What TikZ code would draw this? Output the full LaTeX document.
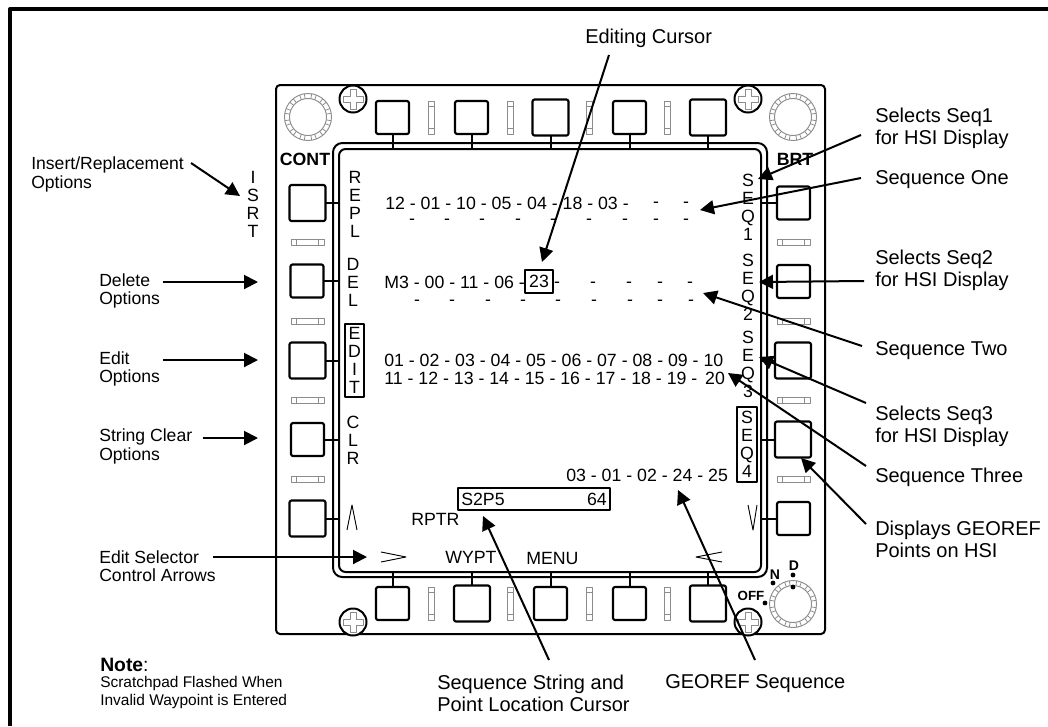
\documentclass[tikz,border=0pt]{standalone}
\usepackage{fontspec}
\setmainfont{Liberation Sans}
\usetikzlibrary{arrows.meta}
\definecolor{slotgray}{HTML}{8C8C8C}
\tikzset{
 knob/.pic={
  \draw[slotgray,line width=0.7pt] (0,0) circle (23.5);
  \draw[slotgray,line width=0.7pt] (0,0) circle (18.5);
  \foreach \a in {15,45,...,345} {
   \draw[slotgray,line width=0.6pt] (\a-6:18.5) -- (\a-6:23.5);
   \draw[slotgray,line width=0.6pt] (\a+6:18.5) -- (\a+6:23.5);
  }
 },
 screw/.pic={
  \draw[line width=1.5pt,fill=white] (0,0) circle (13.5);
  \draw[slotgray,line width=0.6pt] (-3,-10) -- (3,-10) -- (3,-3) -- (10,-3) -- (10,3) -- (3,3) -- (3,10) -- (-3,10) -- (-3,3) -- (-10,3) -- (-10,-3) -- (-3,-3) -- cycle;
 },
 vslot/.pic={
  \draw[slotgray,line width=0.6pt] (-3,-16.5) rectangle (3,16.5) (-3,-11) -- (3,-11) (-3,11) -- (3,11);
 },
 hslot/.pic={
  \draw[slotgray,line width=0.6pt] (-16.5,-3) rectangle (16.5,3) (-11,-3) -- (-11,3) (11,-3) -- (11,3);
 }
}
\begin{document}
\begin{tikzpicture}[x=0.75pt,y=-0.75pt,
 line join=round,
 smallbutton/.style={draw,rounded corners=1.5pt,line width=1.6pt,minimum size=24.75pt,inner sep=0pt,outer sep=0pt},
 bigbutton/.style={smallbutton,minimum size=27pt},
 panelline/.style={draw,inner sep=0pt,outer sep=0pt,line width=1.5pt},
 stub/.style={line width=1.5pt},
 pointer/.style={line width=1.5pt,-{Triangle[length=10.5pt,width=10.5pt]}},
 glyph/.style={line width=0.7pt},
 callout/.style={anchor=west,align=left,inner sep=0pt,font=\fontsize{15}{16.5}\selectfont},
 sidenote/.style={anchor=west,align=left,inner sep=0pt,font=\fontsize{13.2}{13.8}\selectfont},
 readout/.style={anchor=west,inner sep=0pt,font=\fontsize{13.3}{14}\selectfont},
 softkey/.style={align=center,inner sep=0pt,font=\fontsize{13.3}{13.5}\selectfont},
 blank/.style={anchor=base,yshift=-3.6pt,inner sep=0pt,font=\fontsize{13.3}{14}\selectfont},
 boxedkey/.style={softkey,draw,line width=1.5pt,outer sep=0pt},
 panelmark/.style={inner sep=0pt,font=\bfseries\fontsize{13.3}{14}\selectfont},
 dialmark/.style={inner sep=0pt,font=\bfseries\fontsize{10.5}{11}\selectfont},
 dot/.style={circle,fill,inner sep=0pt,minimum size=3.6pt}]
\useasboundingbox (0,0) rectangle (1048,726);
\draw[line width=3pt] (10,726) -- (10,9) -- (1048,9);

\node[panelline,rounded corners=3pt,minimum width=411.75pt,minimum height=411.75pt] (bezel) at (550.5,359.5) {};
\node[panelline,rounded corners=7pt,minimum width=325.5pt,minimum height=325.5pt] (frameline) at (550,360) {};
\node[panelline,rounded corners=5pt,minimum width=316.5pt,minimum height=317.25pt] (screen) at (550,360.5) {};

\node[smallbutton] (t1) at (392.5,117.5) {};
\node[smallbutton] (t2) at (471.5,117.5) {};
\node[bigbutton] (t3) at (550.5,117.5) {};
\node[smallbutton] (t4) at (629.5,117.5) {};
\node[bigbutton] (t5) at (708,117.5) {};
\node[smallbutton] (b1) at (392.5,603.5) {};
\node[bigbutton] (b2) at (472,603.5) {};
\node[smallbutton] (b3) at (550.5,603.5) {};
\node[smallbutton] (b4) at (629.5,603.5) {};
\node[bigbutton] (b5) at (708,603.5) {};
\node[bigbutton] (l1) at (307.5,203) {};
\node[smallbutton] (l2) at (307,281) {};
\node[bigbutton] (l3) at (307.5,360.5) {};
\node[smallbutton] (l4) at (307.5,439.5) {};
\node[bigbutton] (l5) at (307.5,518.5) {};
\node[smallbutton] (r1) at (793.5,203) {};
\node[smallbutton] (r2) at (793.5,281.5) {};
\node[bigbutton] (r3) at (793,360.5) {};
\node[bigbutton] (r4) at (793,439.5) {};
\node[smallbutton] (r5) at (793.5,518.5) {};

\foreach \k in {t1,t2,t3,t4,t5} \draw[stub] (\k.south) -- (\k.south |- screen.north);
\foreach \k in {b1,b2,b3,b4,b5} \draw[stub] (\k.north) -- (\k.north |- screen.south);
\foreach \k in {l1,l2,l3,l4,l5} \draw[stub] (\k.east) -- (\k.east -| screen.west);
\foreach \k in {r1,r2,r3,r4,r5} \draw[stub] (\k.west) -- (\k.west -| screen.east);

\foreach \x in {431,510,589.5,667.5} {
 \pic at (\x,117.5) {vslot};
 \pic at (\x,603.5) {vslot};
}
\foreach \y in {242.5,321,400,479} {
 \pic at (307.5,\y) {hslot};
 \pic at (793.5,\y) {hslot};
}
\pic at (308,117) {knob};
\pic at (793,117) {knob};
\pic at (793,604) {knob};
\pic at (353,99) {screw};
\pic at (748,99) {screw};
\pic at (353,622) {screw};
\pic at (748,622) {screw};

\node[panelmark] (cont) at (305,159) {CONT};
\node[panelmark] (brt) at (795,159) {BRT};
\node[dialmark] (dialn) at (775,575) {N};
\node[dialmark] (diald) at (794,566) {D};
\node[dialmark,font=\bfseries\fontsize{10}{11}\selectfont] (dialoff) at (751,596) {OFF};
\node[dot] (dotn) at (773,583) {};
\node[dot] (dotd) at (793,575) {};
\node[dot] (dotc) at (793,587) {};
\node[dot] (dotoff) at (765,603) {};

\node[softkey] (isrt) at (253,204) {I\\S\\R\\T};
\node[softkey] (repl) at (355,204) {R\\E\\P\\L};
\node[softkey] (del) at (353,282) {D\\E\\L};
\node[boxedkey,minimum width=14.25pt,minimum height=54.75pt] (edit) at (354.5,360.5) {E\\D\\I\\T};
\node[softkey] (clr) at (353,440) {C\\L\\R};
\node[softkey] (seq1) at (748,207) {S\\E\\Q\\1};
\node[softkey] (seq2) at (748,287) {S\\E\\Q\\2};
\node[softkey] (seq3) at (748,364) {S\\E\\Q\\3};
\node[boxedkey,minimum width=15pt,minimum height=56.25pt] (seq4) at (747,444.5) {S\\E\\Q\\4};
\draw[glyph] (347,530) -- (352,505) -- (357,530);
\draw[glyph] (381,552) -- (406,557) -- (381,562);
\draw[glyph] (748,505) -- (753,530) -- (757,505);
\draw[glyph] (722,552) -- (696,557) -- (722,562);

\node[readout] (row1) at (385,203) {12 - 01 - 10 - 05 - 04 - 18 - 03 -};
\node[blank] (blank1a) at (656,203) {-};
\node[blank] (blank1b) at (686,203) {-};
\foreach \x [count=\n] in {412,447,482,518,553,589,625,656,686}
 \node[blank] (blanka\n) at (\x,220) {-};
\node[readout] (row2) at (384,282) {M3 - 00 - 11 - 06 -};
\node[draw,line width=1.5pt,inner sep=0pt,outer sep=0pt,minimum width=21pt,minimum height=17.25pt,font=\fontsize{13.3}{14}\selectfont] (cursor) at (539,281.5) {23};
\foreach \x [count=\n] in {557,593,629,660,690}
 \node[blank] (blankb\n) at (\x,283) {-};
\foreach \x [count=\n] in {417,452,488,523,558,594,630,660,691}
 \node[blank] (blankc\n) at (\x,301) {-};
\node[readout] (row3) at (384,360) {01 - 02 - 03 - 04 - 05 - 06 - 07 - 08 - 09 - 10};
\node[readout] (row4) at (384,378) {11 - 12 - 13 - 14 - 15 - 16 - 17 - 18 - 19 - \,20};
\node[readout] (row5) at (566,475) {03 - 01 - 02 - 24 - 25};
\node[draw,line width=1.5pt,inner sep=0pt,outer sep=0pt,minimum width=114pt,minimum height=16.5pt] (scratchpad) at (534,499) {};
\node[readout] (spleft) at (461,499) {S2P5};
\node[readout,anchor=east] (spright) at (607,499) {64};
\node[readout] (rptr) at (411,519) {RPTR};
\node[readout] (wypt) at (445,557) {WYPT};
\node[readout] (menu) at (526,558) {MENU};

\node[callout] (editing) at (585,38) {Editing Cursor};
\node[callout] (selseq1) at (875,128) {Selects Seq1\\for HSI Display};
\node[callout] (seqone) at (875,180) {Sequence One};
\node[callout] (selseq2) at (875,270) {Selects Seq2\\for HSI Display};
\node[callout] (seqtwo) at (875,351) {Sequence Two};
\node[callout] (selseq3) at (875,426) {Selects Seq3\\for HSI Display};
\node[callout] (seqthree) at (875,477) {Sequence Three};
\node[callout] (georefpts) at (875,539) {Displays GEOREF\\Points on HSI};
\node[callout] (stringcur) at (437,693) {Sequence String and\\Point Location Cursor};
\node[callout] (georefseq) at (665,684) {GEOREF Sequence};
\node[sidenote] (insert) at (31,174.5) {Insert/Replacement\\Options};
\node[sidenote] (delete) at (99,291) {Delete\\Options};
\node[sidenote] (editopt) at (99,369) {Edit\\Options};
\node[sidenote] (clear) at (99,446.5) {String Clear\\Options};
\node[sidenote] (selector) at (99,566) {Edit Selector\\Control Arrows};
\node[sidenote,font=\bfseries\fontsize{14.5}{15}\selectfont] (note) at (100,665) {Note\textmd{:}};
\node[sidenote,font=\fontsize{11.6}{13.5}\selectfont] (notetext) at (100,692) {Scratchpad Flashed When\\Invalid Waypoint is Entered};

\coordinate (editingtail) at (609,55);
\coordinate (editingtip) at (542,262);
\coordinate (selseq1tail) at (861,135);
\coordinate (selseq1tip) at (758,179);
\coordinate (seqonetail) at (861,178);
\coordinate (seqonetip) at (700,210);
\coordinate (selseq2tail) at (864,281);
\coordinate (selseq2tip) at (759,282);
\coordinate (seqtwotail) at (862,346);
\coordinate (seqtwotip) at (703,293);
\coordinate (selseq3tail) at (866,403);
\coordinate (selseq3tip) at (759,357);
\coordinate (seqthreetail) at (866,466);
\coordinate (seqthreetip) at (728,373);
\coordinate (georefptstail) at (866,524);
\coordinate (georefptstip) at (801,458);
\coordinate (stringcurtail) at (549,660);
\coordinate (stringcurtip) at (483,516);
\coordinate (georefseqtail) at (755,660);
\coordinate (georefseqtip) at (678,490);
\coordinate (inserttail) at (191,163);
\coordinate (inserttip) at (240,196);
\coordinate (deletetail) at (163,282);
\coordinate (deletetip) at (258,282);
\coordinate (editopttail) at (163,360);
\coordinate (editopttip) at (258,360);
\coordinate (cleartail) at (203,438);
\coordinate (cleartip) at (258,438);
\coordinate (selectortail) at (213,557);
\coordinate (selectortip) at (367,557);
\foreach \a in {editing,selseq1,seqone,selseq2,seqtwo,selseq3,seqthree,georefpts,stringcur,georefseq,insert,delete,editopt,clear,selector}
 \draw[pointer] (\a tail) -- (\a tip);
\end{tikzpicture}
\end{document}
